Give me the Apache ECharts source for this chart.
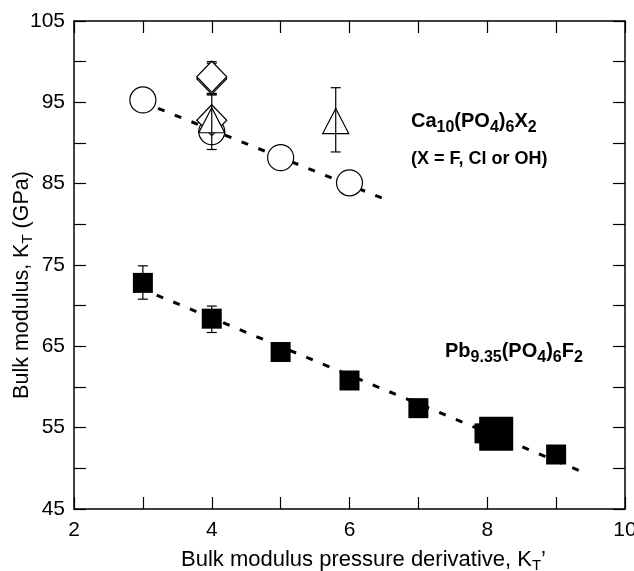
<!DOCTYPE html>
<html>
<head>
<meta charset="utf-8">
<script src="https://cdn.jsdelivr.net/npm/echarts@6/dist/echarts.min.js"></script>
<style>
html,body{margin:0;padding:0;background:#fff;}
#c{width:634px;height:571px;}
</style>
</head>
<body>
<div id="c"></div>
<script>
// ---- data ----
var caCircles = [[3, 95.3], [4, 91.4], [5, 88.2], [6, 85.1]];
var caDiamonds = [[4, 92.8], [4, 97.9], [4, 98.15]];
var caTriangles = [[4, 92.8], [5.8, 92.7]];
var caErrUnder = [[4, 95.9, 99.8], [4, 96.1, 100.0]];
var caErrOver = [[4, 89.2, 96.0], [5.8, 88.9, 96.8]];
var pbSquares = [[3, 72.8], [4, 68.4], [5, 64.3], [6, 60.8], [7, 57.4], [7.96, 54.3], [9, 51.7]];
var pbBigSquare = [[8.13, 54.25]];
var pbErr = [[3, 70.8, 74.9], [4, 66.7, 69.95]];
var caFit = [[3.22, 94.26], [6.54, 83.0]];
var pbFit = [[3.2, 71.3], [9.37, 49.6]];
var xTicks = [2, 4, 6, 8, 10];
var yTicks = [45, 55, 65, 75, 85, 95, 105];

var chart = echarts.init(document.getElementById('c'));
var FONT = '"Liberation Sans", Arial, sans-serif';

function errItem(params, api) {
  var x = api.value(0);
  var lo = api.coord([x, api.value(1)]);
  var hi = api.coord([x, api.value(2)]);
  var hw = 5;
  var st = {stroke: '#000', lineWidth: 1.2};
  return {
    type: 'group',
    children: [
      {type: 'line', shape: {x1: lo[0], y1: lo[1], x2: hi[0], y2: hi[1]}, style: st},
      {type: 'line', shape: {x1: lo[0] - hw, y1: lo[1], x2: lo[0] + hw, y2: lo[1]}, style: st},
      {type: 'line', shape: {x1: hi[0] - hw, y1: hi[1], x2: hi[0] + hw, y2: hi[1]}, style: st}
    ]
  };
}

var axisCommon = {
  axisLine: {show: true, onZero: false, lineStyle: {color: '#000', width: 1.5}},
  axisTick: {show: true, inside: true, length: 12, lineStyle: {color: '#000', width: 1.2}},
  splitLine: {show: false}
};

var sub = {fontSize: 16, fontWeight: 'bold', fontFamily: FONT, color: '#000', fill: '#000', padding: [14, 0, 0, 0]};
var main = {fontSize: 20, fontWeight: 'bold', fontFamily: FONT, color: '#000', fill: '#000'};
var titleSub = {fontSize: 15, fontFamily: FONT, color: '#000', fill: '#000', padding: [12, 0, 0, 0]};
var titleMain = {fontSize: 21.5, fontFamily: FONT, color: '#000', fill: '#000'};

chart.setOption({
  animation: false,
  backgroundColor: '#fff',
  grid: {left: 74, right: 9, top: 21, bottom: 62, containLabel: false, outerBoundsMode: 'none'},
  xAxis: [
    Object.assign({
      type: 'value', min: 2, max: 10, interval: 1, position: 'bottom',
      name: 'Bulk modulus pressure derivative, K{s|T}\u2019',
      nameLocation: 'middle', nameGap: 37,
      nameTextStyle: {fontSize: 22, fontFamily: FONT, color: '#000', padding: [0, 0, 0, 28],
        rich: {s: titleSub}},
      axisLabel: {fontSize: 21, fontFamily: FONT, color: '#000', margin: 11, hideOverlap: false,
        formatter: function (v) { return xTicks.indexOf(v) >= 0 ? String(v) : ''; }}
    }, axisCommon),
    Object.assign({
      type: 'value', min: 2, max: 10, interval: 1, position: 'top',
      axisLabel: {show: false}
    }, axisCommon)
  ],
  yAxis: [
    Object.assign({
      type: 'value', min: 45, max: 105, interval: 5, position: 'left',
      axisLabel: {fontSize: 21, fontFamily: FONT, color: '#000', margin: 9, hideOverlap: false,
        formatter: function (v) { return yTicks.indexOf(v) >= 0 ? String(v) : ''; }}
    }, axisCommon),
    Object.assign({
      type: 'value', min: 45, max: 105, interval: 5, position: 'right',
      axisLabel: {show: false}
    }, axisCommon)
  ],
  series: [
    {type: 'line', data: caFit, symbol: 'none', z: 1,
      lineStyle: {color: '#000', width: 3, type: [7, 11]}},
    {type: 'line', data: pbFit, symbol: 'none', z: 1,
      lineStyle: {color: '#000', width: 3, type: [7, 11]}},
    {type: 'custom', data: caErrUnder, renderItem: errItem, z: 2},
    {type: 'scatter', data: caCircles, symbol: 'circle', symbolSize: 26, z: 3,
      itemStyle: {color: '#fff', borderColor: '#000', borderWidth: 1.2, opacity: 1}},
    {type: 'scatter', data: caDiamonds, symbol: 'diamond', symbolSize: [30, 31], z: 4,
      itemStyle: {color: '#fff', borderColor: '#000', borderWidth: 1.2, opacity: 1}},
    {type: 'scatter', data: caTriangles, symbol: 'triangle', symbolSize: [26, 25], z: 5,
      itemStyle: {color: '#fff', borderColor: '#000', borderWidth: 1.2, opacity: 1}},
    {type: 'custom', data: caErrOver, renderItem: errItem, z: 6},
    {type: 'custom', data: pbErr, renderItem: errItem, z: 2},
    {type: 'scatter', data: pbSquares, symbol: 'rect', symbolSize: 20, z: 3,
      itemStyle: {color: '#000', opacity: 1}},
    {type: 'scatter', data: pbBigSquare, symbol: 'rect', symbolSize: 34, z: 3,
      itemStyle: {color: '#000', opacity: 1}}
  ],
  graphic: [
    {type: 'text', x: 22, y: 285, rotation: Math.PI / 2, z: 10,
      style: {text: '{m|Bulk modulus, K}{s|T}{m| (GPa)}', align: 'center', verticalAlign: 'middle',
        rich: {m: titleMain, s: titleSub}}},
    {type: 'text', left: 411, top: 111, z: 10,
      style: {text: '{m|Ca}{s|10}{m|(PO}{s|4}{m|)}{s|6}{m|X}{s|2}', rich: {m: main, s: sub}}},
    {type: 'text', left: 411, top: 150, z: 10,
      style: {text: '(X = F, Cl or OH)', font: 'bold 18px ' + FONT, fill: '#000'}},
    {type: 'text', left: 445, top: 341, z: 10,
      style: {text: '{m|Pb}{s|9.35}{m|(PO}{s|4}{m|)}{s|6}{m|F}{s|2}', rich: {m: main, s: sub}}}
  ]
});
</script>
</body>
</html>
